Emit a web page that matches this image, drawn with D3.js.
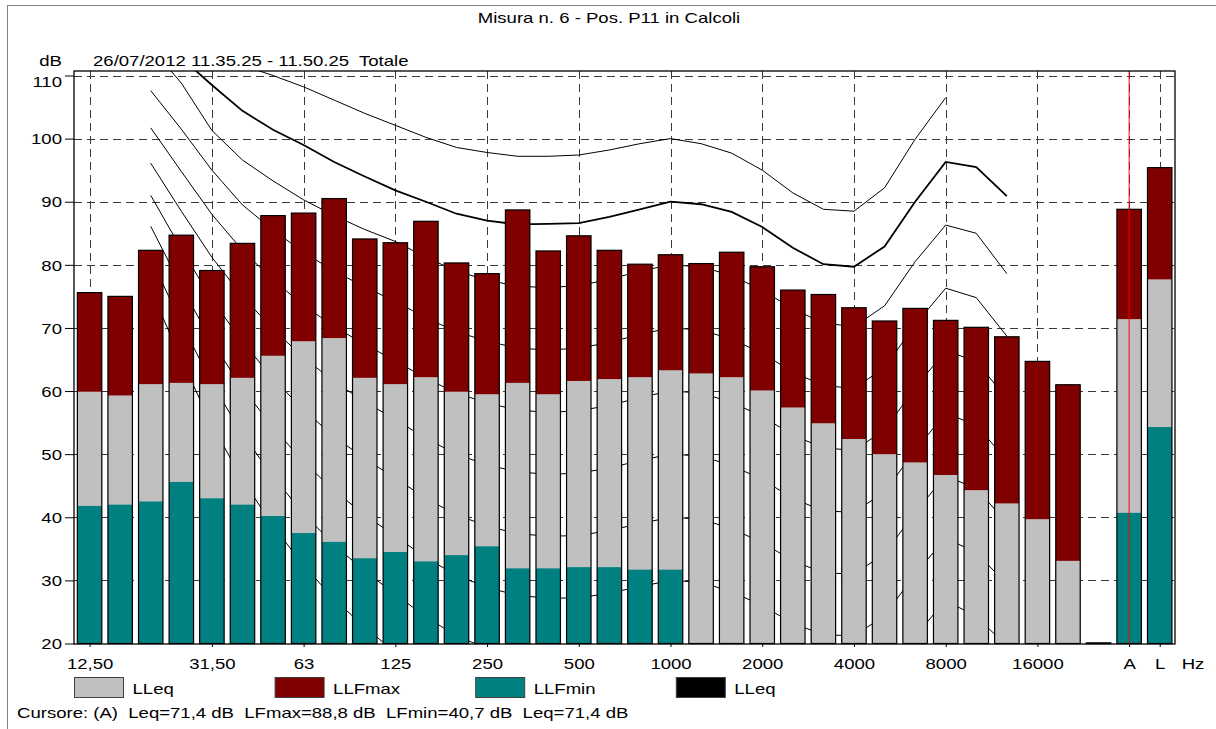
<!DOCTYPE html>
<html>
<head>
<meta charset="utf-8">
<script src="https://cdn.jsdelivr.net/npm/d3@7"></script>
<style>
  body { margin: 0; background: #fff; }
  text { font-family: "Liberation Sans", Arial, sans-serif; font-size: 14.5px; fill: #000; white-space: pre; }
</style>
</head>
<body>
<svg id="chart" width="1216" height="729"></svg>
<script>
// Bands (1/3 octave) plus the A and L totals
const bands = ["12.5","16","20","25","31.5","40","50","63","80","100","125","160","200","250","315","400","500","630","800","1000",
               "1250","1600","2000","2500","3150","4000","5000","6300","8000","10000","12500","16000","20000","-","A","L"];
const tickBands  = ["12.5","31.5","63","125","250","500","1000","2000","4000","8000","16000","A","L"];
const tickLabels = ["12,50","31,50","63","125","250","500","1000","2000","4000","8000","16000","A","L"];
const yTicks = [20,30,40,50,60,70,80,90,100,110];

// measured levels, dB
const llfmax = [75.6,75.0,82.3,84.7,79.1,83.4,87.8,88.2,90.5,84.1,83.5,86.9,80.3,78.6,88.7,82.2,84.6,82.3,80.1,81.6,
                80.2,82.0,79.7,76.0,75.3,73.2,71.1,73.1,71.2,70.1,68.6,64.7,61.0,20.1,88.8,95.4];
const lleq   = [59.9,59.3,61.1,61.3,61.1,62.1,65.6,67.9,68.4,62.1,61.1,62.2,59.9,59.5,61.3,59.5,61.6,61.9,62.2,63.3,
                62.8,62.2,60.1,57.4,54.9,52.4,50.0,48.7,46.7,44.3,42.2,39.7,33.1,20.1,71.4,77.7];
const llfmin = [41.8,42.0,42.5,45.6,43.0,42.0,40.2,37.5,36.1,33.5,34.5,33.0,34.0,35.4,31.9,31.9,32.1,32.1,31.7,31.7,
                null,null,null,null,null,null,null,null,null,null,null,null,null,null,40.7,54.3];

// equal loudness contours (20 Hz .. 12.5 kHz)
const isoBands = ["20","25","31.5","40","50","63","80","100","125","160","200","250","315","400","500","630","800","1000",
                  "1250","1600","2000","2500","3150","4000","5000","6300","8000","10000","12500"];
const phon100 = [121,117,114,111.6,110.0,108.2,106.1,104.0,102.1,100.2,98.6,97.8,97.2,97.2,97.4,98.2,99.2,100.0,99.2,97.7,95.0,91.4,88.8,88.5,92.2,99.9,106.5,null,null];
const phon90  = [120,112.8,108.5,104.4,101.4,99.0,96.3,94.0,91.8,90.0,88.1,87.0,86.4,86.5,86.6,87.6,88.8,90.0,89.6,88.4,86.0,82.7,80.1,79.7,82.9,90.0,96.3,95.5,90.9];
const phon80  = [114.5,108.8,101.3,96.6,93.3,90.3,87.8,85.6,83.7,81.2,79.0,77.6,76.6,76.4,76.7,77.7,79.0,80.0,79.7,78.3,76.0,73.0,70.8,70.2,73.5,80.5,86.3,85.0,78.6];
const phon70  = [107.6,101.5,95.0,89.5,85.5,82.0,79.0,76.5,74.2,71.6,69.4,67.9,66.8,66.5,66.8,67.7,69.0,70.0,69.7,68.2,66.0,63.0,60.9,60.4,63.7,70.5,76.3,74.8,68.7];
const phon60  = [101.7,94.8,88.0,82.3,77.6,73.6,70.2,67.4,64.8,62.0,59.7,58.1,57.0,56.6,56.9,57.7,59.0,60.0,59.7,58.2,56.0,53.0,51.0,50.6,53.8,60.5,66.4,64.7,58.8];
const phon50  = [96.1,88.5,81.2,75.0,69.8,65.3,61.5,58.3,55.5,52.5,50.0,48.3,47.2,46.8,47.0,47.8,49.0,50.0,49.7,48.2,46.0,43.0,41.0,40.8,44.0,50.6,56.5,54.6,49.0];
const phon40  = [91.0,82.5,74.5,67.8,62.0,57.0,52.8,49.3,46.2,43.0,40.4,38.6,37.4,37.0,37.1,37.9,39.0,40.0,39.7,38.2,36.0,33.1,31.2,31.0,34.2,40.8,46.6,44.5,39.2];
const phon30  = [86.1,76.6,67.8,60.5,54.2,48.8,44.2,40.4,37.0,33.6,30.8,28.9,27.6,27.2,27.2,28.0,29.0,30.0,29.7,28.2,26.0,23.2,21.4,21.2,24.4,31.0,36.7,34.4,29.4];
const phon20  = [81.0,70.8,61.2,53.2,46.4,40.6,35.6,31.5,27.8,24.2,21.2,19.2,17.8,17.4,17.4,18.1,19.0,20.0,19.7,18.2,16.0,13.3,11.6,11.4,14.6,21.2,26.8,24.3,19.6];
const phon10  = [76.0,65.0,54.6,46.0,38.6,32.4,27.0,22.6,18.6,15.0,12.0,10.0,8.6,8.2,8.2,8.9,9.8,10.0,9.7,8.2,6.0,3.4,1.8,1.6,4.8,11.4,16.9,14.2,9.8];

const contours = [
    { phon: 100, values: phon100 }, { phon: 90, values: phon90 }, { phon: 80, values: phon80 },
    { phon: 70, values: phon70 }, { phon: 60, values: phon60 }, { phon: 50, values: phon50 },
    { phon: 40, values: phon40 }, { phon: 30, values: phon30 }, { phon: 20, values: phon20 },
    { phon: 10, values: phon10 }
];

const legendItems = [
    { label: "LLeq", color: "#c0c0c0" },
    { label: "LLFmax", color: "#800000" },
    { label: "LLFmin", color: "#008080" },
    { label: "LLeq", color: "#000000" }
];

const SX = 1.28; // text in the original is horizontally stretched
const plot = { x0: 74, x1: 1175, y0: 71, y1: 644 };

const svg = d3.select("#chart");

const x = d3.scalePoint().domain(bands).range([plot.x0 + 0.3, plot.x1]).padding(0.5);
const y = d3.scaleLinear().domain([20, 110]).range([643.5, 75.5]);
const bw = x.step() * 0.8;

function addText(x0, y0, str, anchor) {
    return svg.append("text")
        .attr("transform", `translate(${x0},${y0}) scale(${SX},1)`)
        .attr("text-anchor", anchor || "start")
        .text(str);
}

// outer border
svg.append("rect")
    .attr("x", 7.5).attr("y", 5.5).attr("width", 1220).attr("height", 740)
    .attr("fill", "none").attr("stroke", "#808080");

// titles
addText(609, 23, "Misura n. 6 - Pos. P11 in Calcoli", "middle");
addText(62, 65.5, "dB", "end");
addText(93, 65.5, "26/07/2012 11.35.25 - 11.50.25  Totale");

svg.append("clipPath").attr("id", "plotClip")
    .append("rect")
    .attr("x", plot.x0).attr("y", plot.y0)
    .attr("width", plot.x1 - plot.x0).attr("height", plot.y1 - plot.y0);

// grid
svg.append("g").selectAll("line")
    .data(yTicks.slice(1))
    .join("line")
    .attr("x1", plot.x0).attr("x2", plot.x1)
    .attr("y1", d => Math.round(y(d)) + 0.5).attr("y2", d => Math.round(y(d)) + 0.5)
    .attr("stroke", "#3a3a3a").attr("stroke-dasharray", "8,5");

svg.append("g").selectAll("line")
    .data(tickBands)
    .join("line")
    .attr("x1", d => Math.round(x(d)) + 0.5).attr("x2", d => Math.round(x(d)) + 0.5)
    .attr("y1", plot.y0).attr("y2", plot.y1)
    .attr("stroke", "#3a3a3a").attr("stroke-dasharray", "8,5");

// contours
const line = d3.line()
    .defined(d => d.v != null)
    .x(d => x(d.band))
    .y(d => y(d.v));

svg.append("g").attr("clip-path", "url(#plotClip)")
    .selectAll("path")
    .data(contours)
    .join("path")
    .attr("d", c => line(c.values.map((v, i) => ({ band: isoBands[i], v: v }))))
    .attr("fill", "none")
    .attr("stroke", "#000")
    .attr("stroke-width", c => c.phon === 90 ? 1.8 : 1);

// bars
const barData = bands.map((b, i) => ({ band: b, max: llfmax[i], eq: lleq[i], min: llfmin[i] }));
const bars = svg.append("g");

function drawLayer(key, color) {
    bars.append("g").selectAll("rect")
        .data(barData.filter(d => d[key] != null))
        .join("rect")
        .attr("x", d => x(d.band) - bw / 2)
        .attr("width", bw)
        .attr("y", d => y(d[key]))
        .attr("height", d => y(20) - y(d[key]))
        .attr("fill", color);
}
drawLayer("max", "#800000");
drawLayer("eq", "#c0c0c0");
drawLayer("min", "#008080");

bars.append("g").selectAll("rect")
    .data(barData)
    .join("rect")
    .attr("x", d => x(d.band) - bw / 2)
    .attr("width", bw)
    .attr("y", d => y(d.max))
    .attr("height", d => y(20) - y(d.max))
    .attr("fill", "none")
    .attr("stroke", "#000")
    .attr("stroke-width", 1.2);

// cursor on A
svg.append("line")
    .attr("x1", x("A")).attr("x2", x("A"))
    .attr("y1", plot.y0).attr("y2", plot.y1)
    .attr("stroke", "#ff0000").attr("stroke-width", 1);

// frame
svg.append("rect")
    .attr("x", plot.x0).attr("y", plot.y0)
    .attr("width", plot.x1 - plot.x0).attr("height", plot.y1 - plot.y0)
    .attr("fill", "none").attr("stroke", "#000").attr("stroke-width", 1.3);

// axes
const yAxis = svg.append("g")
    .attr("transform", `translate(${plot.x0},0)`)
    .call(d3.axisLeft(y).tickValues(yTicks).tickSize(9).tickFormat(d3.format("d")));
yAxis.select(".domain").remove();
yAxis.selectAll("text")
    .attr("x", null).attr("dy", null)
    .attr("transform", d => `translate(-12,${d === 110 ? 11 : 5.2}) scale(${SX},1)`)
    .style("font-size", "14.5px").style("font-family", null);

const xAxis = svg.append("g")
    .attr("transform", `translate(0,${plot.y1})`)
    .call(d3.axisBottom(x).tickValues(tickBands).tickSize(3)
        .tickFormat(d => tickLabels[tickBands.indexOf(d)]));
xAxis.select(".domain").remove();
xAxis.selectAll("text")
    .attr("y", null).attr("dy", null)
    .attr("transform", `translate(0,24.5) scale(${SX},1)`)
    .style("font-size", "14.5px").style("font-family", null);
addText(1193, 668.5, "Hz", "middle");

// legend
const legend = svg.append("g");
legendItems.forEach((item, i) => {
    const lx = 74.5 + i * 200.6;
    legend.append("rect")
        .attr("x", lx).attr("y", 677.5).attr("width", 49).attr("height", 20)
        .attr("fill", item.color).attr("stroke", "#404040");
    addText(lx + 58, 693.5, item.label);
});

addText(17, 718, "Cursore: (A)  Leq=71,4 dB  LFmax=88,8 dB  LFmin=40,7 dB  Leq=71,4 dB");
</script>
</body>
</html>
